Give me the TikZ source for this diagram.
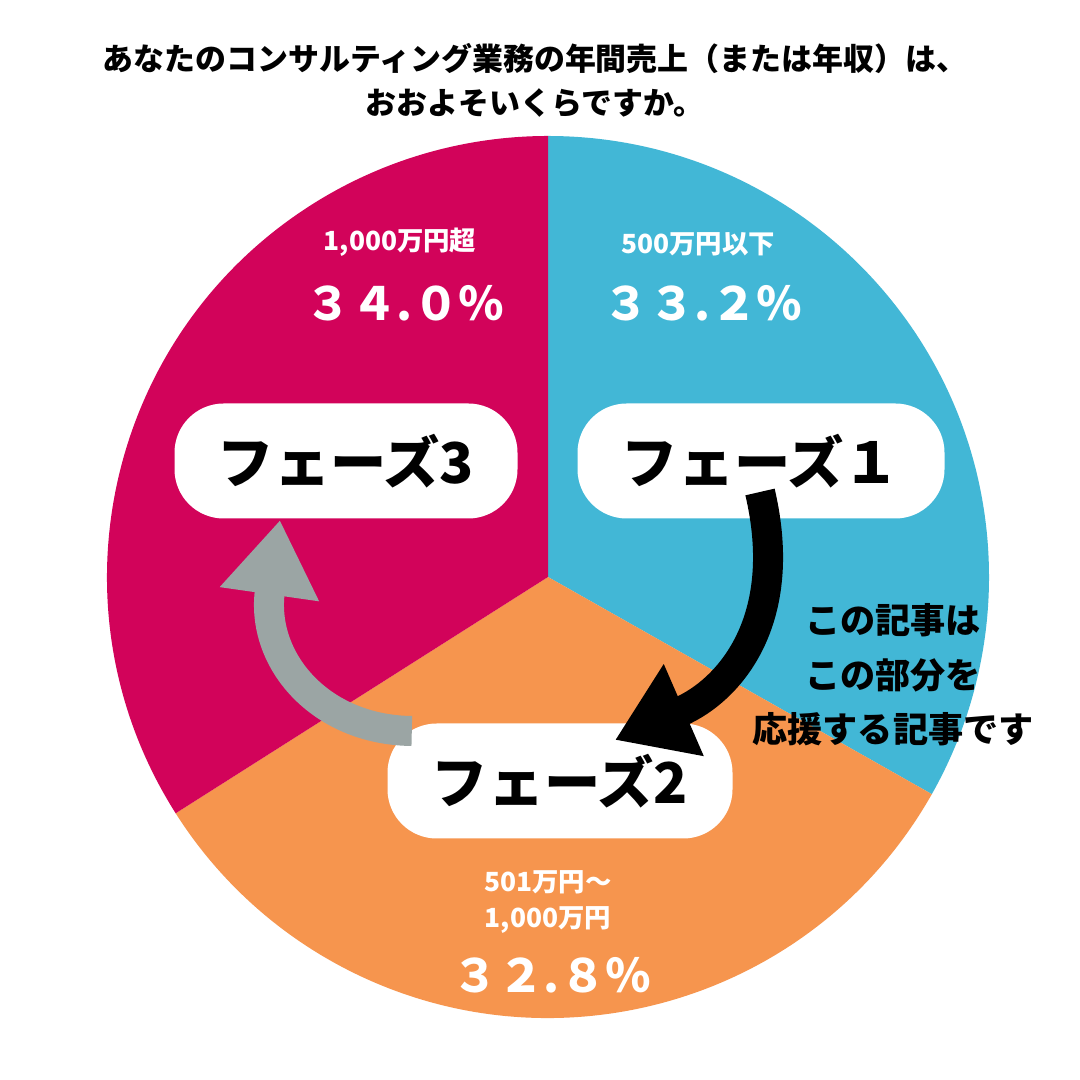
\documentclass[tikz,border=0pt]{standalone}
\usepackage{fontspec}
\setmainfont{Noto Sans CJK JP}
\usetikzlibrary{arrows.meta}
\definecolor{pieblue}{HTML}{42B7D6}
\definecolor{pieorange}{HTML}{F6954E}
\definecolor{piered}{HTML}{D2035A}
\definecolor{arrowgray}{HTML}{9BA5A4}
\tikzset{
  phasebox/.style = {fill=white, rounded corners=14pt, minimum height=1.15cm,
                     font=\fontsize{16}{16}\selectfont\bfseries},
  cat/.style = {white, font=\fontsize{7.5}{10}\selectfont\bfseries, align=center},
  pct/.style = {white, font=\fontsize{13}{13}\selectfont\bfseries},
  bigarrow/.style = {line width=0.3cm, -{Triangle[length=0.75cm, width=0.95cm]}}
}
\begin{document}
\begin{tikzpicture}
	\def \R{4.41}
	\useasboundingbox (0,0) rectangle (10.8,10.8);
	\fill[white] (0,0) rectangle (10.8,10.8);
	\coordinate (c) at (5.48,5.03);

	% Slices
	\fill[pieblue]   (c) -- ++(90:\R) arc (90:-29.5:\R) -- cycle;
	\fill[pieorange] (c) -- ++(-29.5:\R) arc (-29.5:-147.6:\R) -- cycle;
	\fill[piered]    (c) -- ++(-147.6:\R) arc (-147.6:-270:\R) -- cycle;

	% Title
	\node[font=\fontsize{8.8}{12.5}\selectfont\bfseries, align=center] (title) at (5.35,10.0)
	  {あなたのコンサルティング業務の年間売上（または年収）は、\\おおよそいくらですか。};

	% Labels
	\node[cat] (l1) at (6.98,8.36) {500万円以下};
	\node[pct] (p1) at (7.03,7.77) {３３.２％};
	\node[cat] (l3) at (4.00,8.38) {1,000万円超};
	\node[pct] (p3) at (4.05,7.77) {３４.０％};
	\node[cat] (l2) at (5.48,1.78) {501万円～\\1,000万円};
	\node[pct] (p2) at (5.52,1.05) {３２.８％};

	% Phase boxes
	\node[phasebox, minimum width=3.43cm] (f3) at (3.46,6.19) {フェーズ3};
	\node[phasebox, minimum width=3.67cm] (f1) at (7.61,6.19) {フェーズ１};
	\node[phasebox, minimum width=3.45cm] (f2) at (5.60,2.99) {フェーズ2};

	% Arrows
	\draw[bigarrow] (7.60,5.88) .. controls (7.9,4.6) and (7.3,3.9) .. (6.15,3.4);
	\draw[bigarrow, arrowgray] (f2.west) ++(0.25,0.5) .. controls (3.2,3.5) and (2.6,4.2) .. (2.8,5.6);

	% Note
	\node[font=\fontsize{10}{15.5}\selectfont\bfseries, align=center] (note) at (8.93,4.05)
	  {この記事は\\この部分を\\応援する記事です};
\end{tikzpicture}
\end{document}
